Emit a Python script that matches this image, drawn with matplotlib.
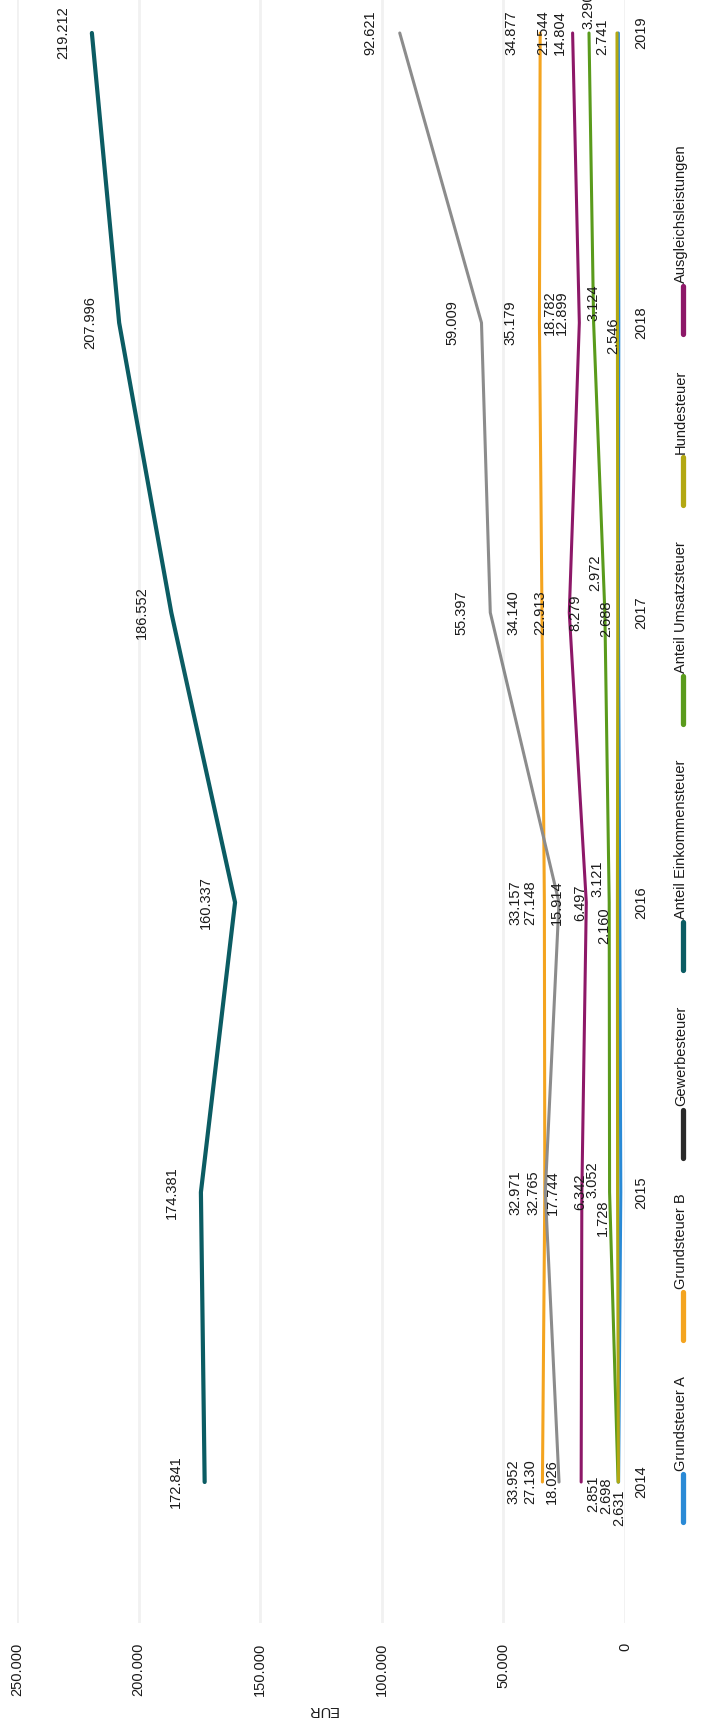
## Import libraries
import matplotlib
matplotlib.use("Agg")
import matplotlib.pyplot as plt
from matplotlib.lines import Line2D

plt.rcParams['font.family'] = ['Liberation Sans', 'DejaVu Sans']

## Data (EUR per year)
years = [2014, 2015, 2016, 2017, 2018, 2019]
series_names = ['Grundsteuer A', 'Grundsteuer B', 'Gewerbesteuer', 'Anteil Einkommensteuer',
                'Anteil Umsatzsteuer', 'Hundesteuer', 'Ausgleichsleistungen']
grundsteuer_a = [2631, 1728, 2160, 2688, 2546, 2741]
grundsteuer_b = [33952, 32971, 33157, 34140, 35179, 34877]
gewerbesteuer = [27130, 32765, 27148, 55397, 59009, 92621]
einkommensteuer = [172841, 174381, 160337, 186552, 207996, 219212]
umsatzsteuer = [2851, 6342, 6497, 8279, 12899, 14804]
hundesteuer = [2698, 3052, 3121, 2972, 3124, 3290]
ausgleich = [18026, 17744, 15914, 22913, 18782, 21544]
eur_ticks = [0, 50000, 100000, 150000, 200000, 250000]

values = [grundsteuer_a, grundsteuer_b, gewerbesteuer, einkommensteuer,
          umsatzsteuer, hundesteuer, ausgleich]
colors = ['#2a8ad6', '#f4a41f', '#8c8c8c', '#0b5c63', '#5a9b1c', '#b3a812', '#8d1868']
legend_colors = ['#2a8ad6', '#f4a41f', '#2a2a2a', '#0b5c63', '#5a9b1c', '#b3a812', '#8d1868']
widths = [2.2, 2.2, 2.2, 3.0, 2.2, 2.2, 2.2]

## label nudges (pixels, +dy = down on the page) for the crowded labels
default_dx = -29
nudge = {
    (0, 2014): (1, 26), (4, 2014): (-25, 12), (5, 2014): (-12, 14),
    (2, 2015): (-12, 0), (5, 2015): (-25, -13), (0, 2015): (-18, 26),
    (5, 2016): (-20, -24), (0, 2016): (-15, 23),
    (5, 2017): (-23, -40), (0, 2017): (-12, 6),
    (6, 2018): (-29, -10), (4, 2018): (-32, -10), (5, 2018): (-24, -20), (0, 2018): (-6, 13),
    (5, 2019): (-29, -22), (0, 2019): (-16, 4),
}

W, H = 703, 1725
fig = plt.figure(figsize=(W / 100, H / 100), dpi=100)
ax = fig.add_axes([17 / W, 1 - 1623 / H, 608 / W, 1623 / H])

## Chart is rotated: EUR runs right-to-left, years bottom-to-top
for i, name in enumerate(series_names):
    ax.plot(values[i], years, color=colors[i], lw=widths[i], solid_capstyle='round',
            solid_joinstyle='round', zorder=3 + i)

for i, name in enumerate(series_names):
    for yr, v in zip(years, values[i]):
        dx, dy = nudge.get((i, yr), (default_dx, 0))
        ax.annotate(f"{v:,}".replace(',', '.'), (v, yr), xytext=(dx, -dy),
                    textcoords='offset pixels', rotation=90, ha='center', va='center',
                    fontsize=10.5, color='#1a1a1a', annotation_clip=False, zorder=20)

ax.set_xlim(250000, 0)
ax.set_ylim(2014 - 141 / 289.8, 2019 + 33 / 289.8)
ax.set_xticks(eur_ticks)
ax.set_xticklabels([f"{t:,}".replace(',', '.') for t in eur_ticks], rotation=90,
                   fontsize=10.5, color='#1a1a1a')
ax.set_yticks(years)
ax.yaxis.tick_right()
ax.set_yticklabels([str(y) for y in years], rotation=90, va='center', fontsize=10.5,
                   color='#1a1a1a')
ax.tick_params(axis='x', length=0, pad=14)
ax.tick_params(axis='y', length=0, pad=7)
ax.grid(axis='x', color='#f1f1f1', lw=2)
ax.set_axisbelow(True)
for s in ax.spines.values():
    s.set_visible(False)

fig.text(322 / W, 1 - 1710 / H, 'EUR', rotation=180, ha='center', va='center',
         fontsize=10.5, color='#1a1a1a')

## Legend strip on the right, flowing bottom to top
fig.canvas.draw()
renderer = fig.canvas.get_renderer()
cur = 1522
for i, name in enumerate(series_names):
    fig.add_artist(Line2D([683 / W, 683 / W], [1 - cur / H, 1 - (cur - 48) / H],
                          color=legend_colors[i], lw=3.8, solid_capstyle='round',
                          transform=fig.transFigure))
    t = fig.text(681 / W, 1 - (cur - 51) / H, name, rotation=90, ha='center', va='bottom',
                 fontsize=10.5, color='#1a1a1a')
    L = t.get_window_extent(renderer).height
    cur = cur - 51 - L - 36

fig.savefig('out.png', dpi=100)
